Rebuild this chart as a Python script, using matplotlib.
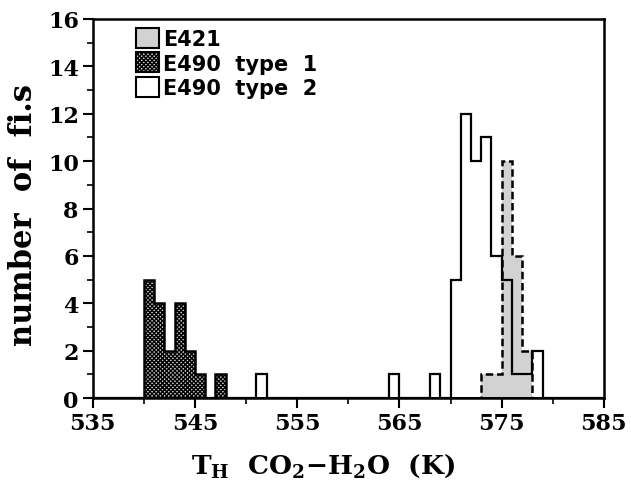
import matplotlib
matplotlib.use("Agg")
import matplotlib.pyplot as plt
from matplotlib.patches import Patch
from matplotlib.font_manager import FontProperties
import numpy as np

# bin left edges (K) and counts per 1 K bin
e421_temps = [573, 574, 575, 576, 577]
e421_counts = [1, 1, 10, 6, 2]
type1_temps = [540, 541, 542, 543, 544, 545, 547]
type1_counts = [5, 4, 2, 4, 2, 1, 1]
type2_temps = [551, 564, 568, 570, 571, 572, 573, 574, 575, 576, 577, 578]
type2_counts = [1, 1, 1, 5, 12, 10, 11, 6, 5, 1, 1, 2]
legend_labels = ["E421", "E490  type  1", "E490  type  2"]
xticks = [535, 545, 555, 565, 575, 585]

edges = np.arange(535, 586, 1)

plt.rcParams["hatch.linewidth"] = 1.0
plt.rcParams["mathtext.fontset"] = "custom"
plt.rcParams["mathtext.rm"] = "DejaVu Serif:bold"
plt.rcParams["mathtext.it"] = "DejaVu Serif:bold"
plt.rcParams["mathtext.bf"] = "DejaVu Serif:bold"

fig = plt.figure(figsize=(6.31, 4.85), dpi=100)
ax = fig.add_axes([0.147, 0.177, 0.81, 0.782])

ax.hist(e421_temps, bins=edges, weights=e421_counts, histtype="stepfilled",
        facecolor="#d2d2d2", edgecolor="none", zorder=1)
ax.hist(e421_temps, bins=edges, weights=e421_counts, histtype="step",
        color="black", linestyle=(0, (3, 1.5)), linewidth=1.8, zorder=1.2)
ax.hist(type2_temps, bins=edges, weights=type2_counts, histtype="step",
        color="black", linewidth=1.6, zorder=1.3)
ax.hist(type1_temps, bins=edges, weights=type1_counts, histtype="stepfilled",
        facecolor="#d0d0d0", edgecolor="black", hatch="xxxxxxxx", linewidth=1.8, zorder=1.4)

ax.set_xlim(535, 585)
ax.set_ylim(0, 16)
ax.set_xticks(xticks)
ax.set_xticks([t + 5 for t in xticks[:-1]], minor=True)
ax.set_yticks(range(0, 17, 2))
ax.set_yticks(range(1, 16, 2), minor=True)
ax.tick_params(which="major", length=7, width=1.5, direction="out", pad=3)
ax.tick_params(which="minor", length=4, width=1.2, direction="out")
for sp in ax.spines.values():
    sp.set_linewidth(1.8)

tick_font = FontProperties(family="DejaVu Serif", weight="bold", size=16)
for lab in ax.get_xticklabels() + ax.get_yticklabels():
    lab.set_fontproperties(tick_font)

ax.set_xlabel(r"$\mathrm{T_H\ \ CO_2{-}H_2O\ \ (K)}$", fontsize=19)
ax.xaxis.set_label_coords(0.45, -0.14)
ax.set_ylabel("number  of  fi.s", family="DejaVu Serif", weight="bold", fontsize=22)
ax.yaxis.set_label_coords(-0.105, 0.485)

handles = [
    Patch(facecolor="#d2d2d2", edgecolor="black", linewidth=1.5),
    Patch(facecolor="#d0d0d0", edgecolor="black", hatch="xxxxxxxx", linewidth=1.5),
    Patch(facecolor="white", edgecolor="black", linewidth=1.5),
]
ax.legend(handles, legend_labels, loc="upper left", bbox_to_anchor=(0.06, 1.01),
          frameon=False, handlelength=1.1, handleheight=1.1, handletextpad=0.2,
          labelspacing=0.18, borderaxespad=0.2,
          prop=dict(family="DejaVu Sans", weight="bold", size=15))

fig.savefig("out.png", dpi=100)
